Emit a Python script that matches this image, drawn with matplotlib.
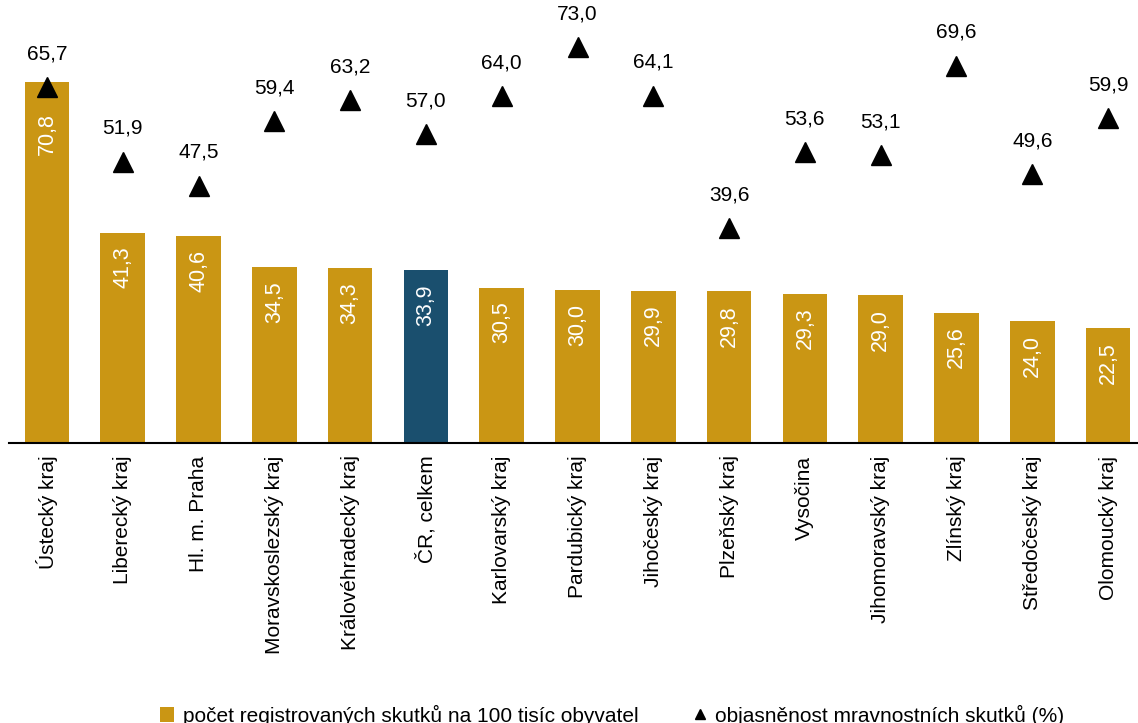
import matplotlib.pyplot as plt
from matplotlib.lines import Line2D
from matplotlib.patches import Patch

plt.rcParams['font.family'] = ['Liberation Sans', 'DejaVu Sans']

regions = ["Ústecký kraj", "Liberecký kraj", "Hl. m. Praha", "Moravskoslezský kraj",
           "Královéhradecký kraj", "ČR, celkem", "Karlovarský kraj", "Pardubický kraj",
           "Jihočeský kraj", "Plzeňský kraj", "Vysočina", "Jihomoravský kraj",
           "Zlínský kraj", "Středočeský kraj", "Olomoucký kraj"]
per_100k = [70.8, 41.3, 40.6, 34.5, 34.3, 33.9, 30.5, 30.0, 29.9, 29.8, 29.3, 29.0, 25.6, 24.0, 22.5]
clearance = [65.7, 51.9, 47.5, 59.4, 63.2, 57.0, 64.0, 73.0, 64.1, 39.6, 53.6, 53.1, 69.6, 49.6, 59.9]

gold = "#CA9614"
blue = "#1A4F6E"

def fmt(v):
    return f"{v:.1f}".replace(".", ",")

W, H = 1138, 723
fig = plt.figure(figsize=(W / 100, H / 100), dpi=100)
top_px, base_px = 8, 443
ax = fig.add_axes([9 / W, 1 - base_px / H, 1137 / W, (base_px - top_px) / H])
ax2 = ax.twinx()

x = list(range(len(regions)))
colors = [blue if r.startswith("ČR") else gold for r in regions]
ax.bar(x, per_100k, width=0.59, color=colors, zorder=2)
ax.set_xlim(-0.5, 14.5)
ax.set_ylim(0, (base_px - top_px) / 5.095)
ax2.set_ylim(0, (base_px - top_px) / 5.42)

for i, (xi, v) in enumerate(zip(x, per_100k)):
    # first label sits lower, below the triangle
    off = -22 if i == 0 else -10
    ax.annotate(fmt(v), (xi, v), xytext=(0, off), textcoords="offset points",
                rotation=90, ha="center", va="top", color="white", fontsize=15.5)

ax2.plot(x, clearance, linestyle="none", marker="^", markersize=14.5, color="black")
for xi, v in zip(x, clearance):
    ax2.annotate(fmt(v), (xi, v), xytext=(0, 20), textcoords="offset points",
                 ha="center", va="baseline", color="black", fontsize=15)

ax.set_xticks(x)
ax.set_xticklabels(regions, rotation=90, fontsize=15)
ax.tick_params(axis="x", length=0, pad=9)
ax.set_yticks([])
ax2.set_yticks([])
for a in (ax, ax2):
    for s in ("top", "left", "right", "bottom"):
        a.spines[s].set_visible(False)
ax.spines["bottom"].set_visible(True)
ax.spines["bottom"].set_linewidth(1.5)

handles = [Patch(facecolor=gold, edgecolor="none"),
           Line2D([], [], linestyle="none", marker="^", markersize=7, color="black")]
labels = ["počet registrovaných skutků na 100 tisíc obyvatel",
          "objasněnost mravnostních skutků (%)"]
fig.legend(handles, labels, loc="center", bbox_to_anchor=(0.538, 1 - 715 / H), ncol=2,
           frameon=False, fontsize=15, handlelength=0.7, handleheight=0.7,
           handletextpad=0.4, columnspacing=2.6)

fig.savefig("out.png", dpi=100)
